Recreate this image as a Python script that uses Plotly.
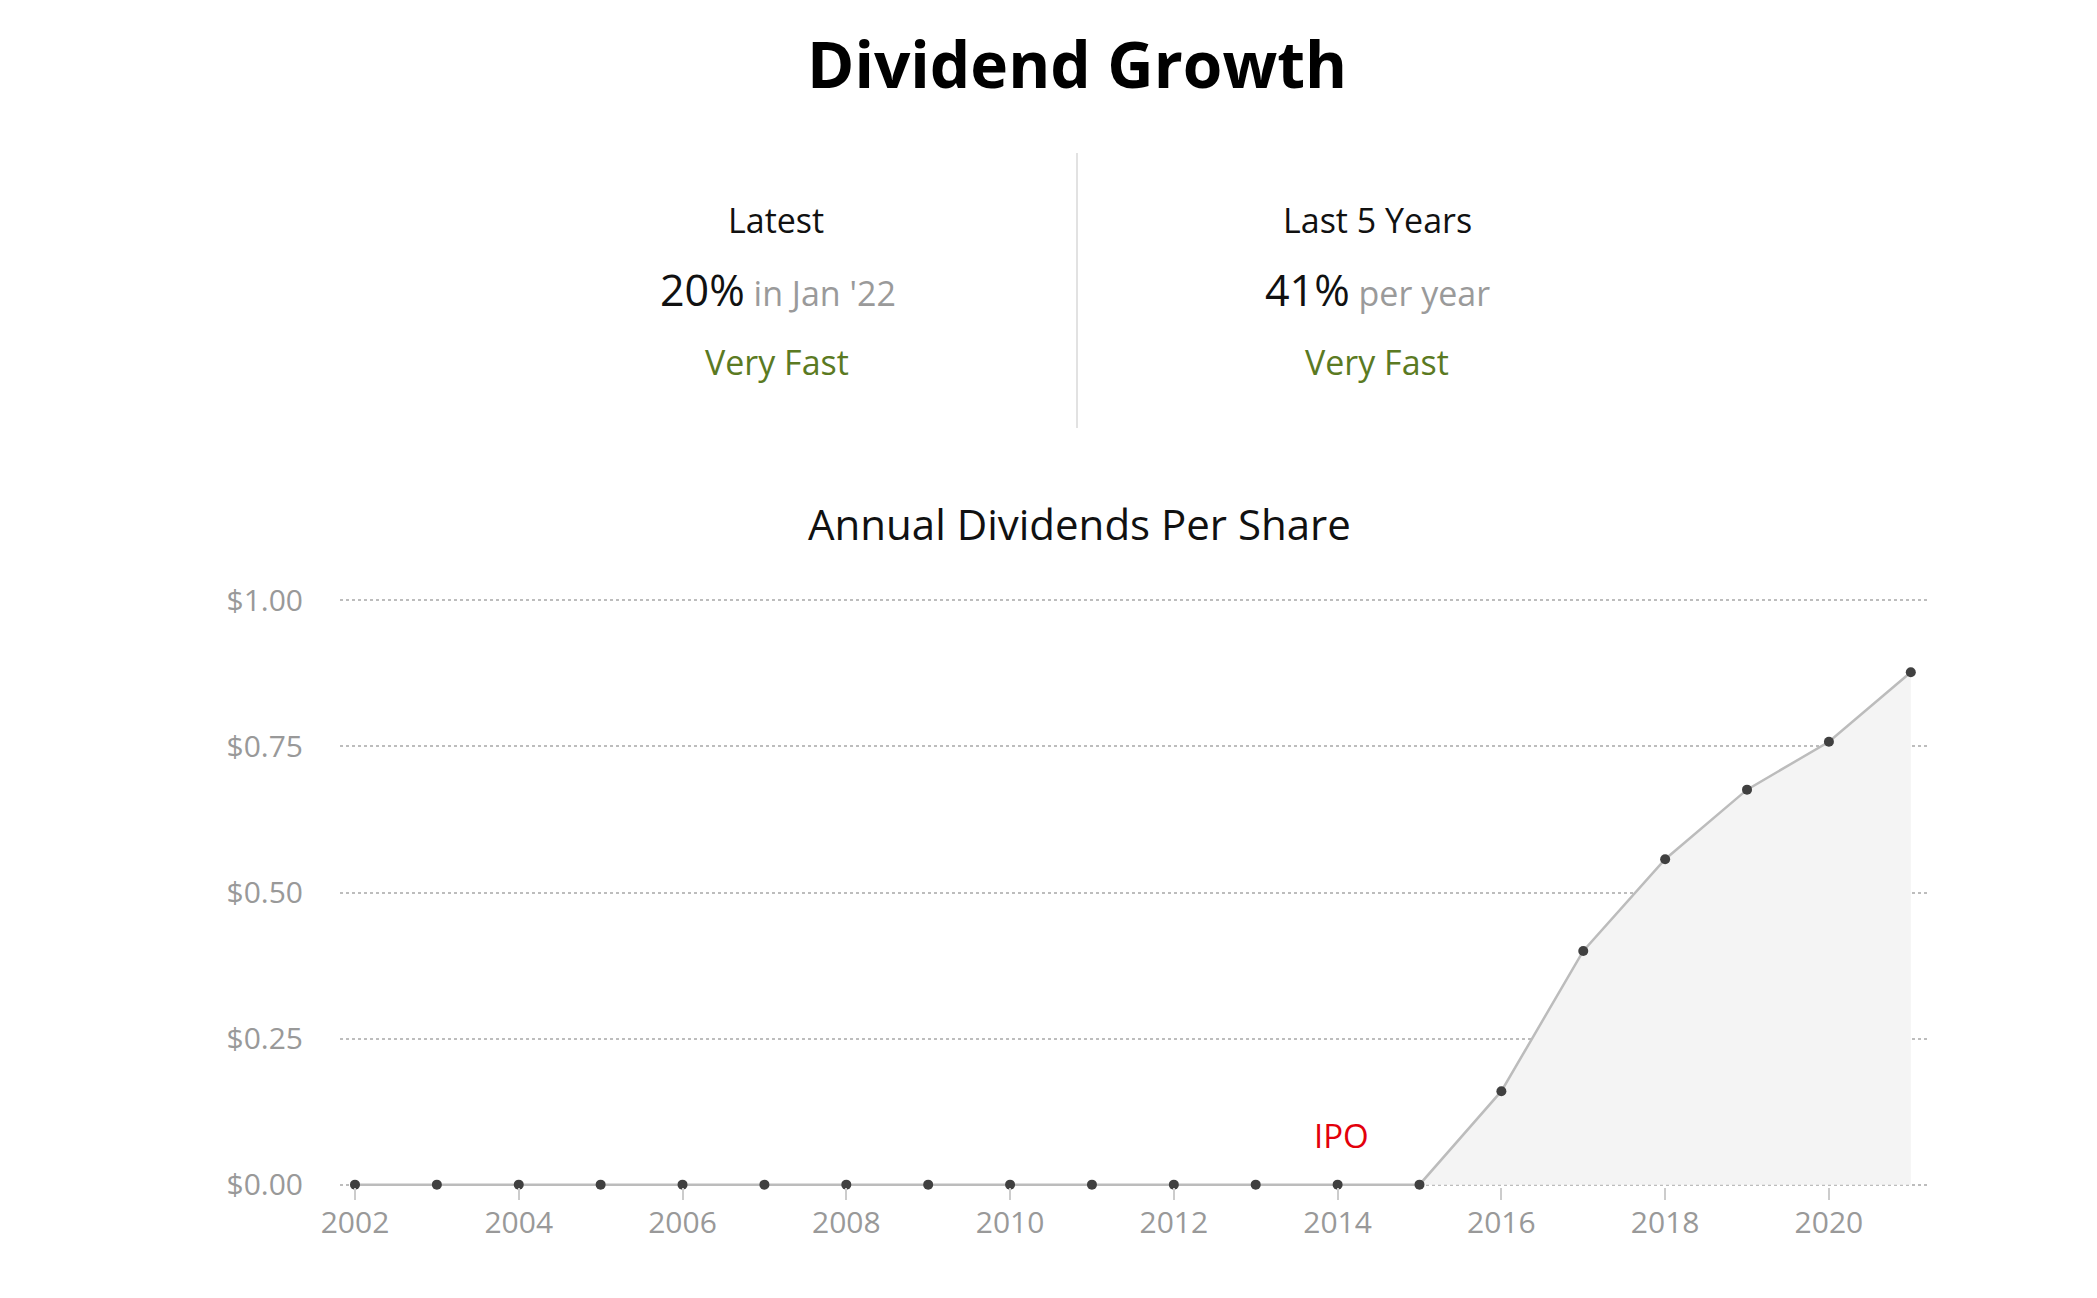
import plotly.graph_objects as go

# annual dividends per share
years = list(range(2002, 2022))
dividends = [0, 0, 0, 0, 0, 0, 0, 0, 0, 0, 0, 0, 0, 0,
             0.16, 0.40, 0.557, 0.676, 0.758, 0.877]

y_ticks = [0, 0.25, 0.5, 0.75, 1.0]
y_labels = ['$0.00', '$0.25', '$0.50', '$0.75', '$1.00']

latest_pct = '20%'
latest_note = "in Jan '22"
five_year_pct = '41%'
five_year_note = 'per year'
speed_label = 'Very Fast'
ipo_year = 2014

FONT = 'Open Sans'


# screenshot pixels -> paper coords (plot area is 340..1928 x 598..1187)
def px(x):
    return (x - 340) / 1588.0


def py(y):
    return (1187 - y) / 589.0


fig = go.Figure()

fig.add_trace(go.Scatter(
    x=years, y=dividends,
    mode='lines+markers',
    line=dict(color='#bcbcbc', width=2.5),
    marker=dict(color='#404040', size=10),
    fill='tozeroy', fillcolor='#f4f4f4',
    cliponaxis=False,
    hoverinfo='x+y',
))

annos = []


def txt(x, y, s, size, color='#111', **kw):
    annos.append(dict(x=px(x), y=py(y), xref='paper', yref='paper', text=s,
                      showarrow=False, xanchor='center', yanchor='middle',
                      font=dict(family=FONT, size=size, color=color), **kw))


txt(1077, 63, '<b>Dividend Growth</b>', 64, '#000')

# stats block
txt(776, 220, 'Latest', 34)
txt(778, 289, "<span style='font-size:43px;fill:#111'>%s</span> %s" % (latest_pct, latest_note), 34, '#9a9a9a')
txt(777, 362, speed_label, 34, '#5b7a22')

txt(1377, 220, 'Last 5 Years', 34)
txt(1377, 289, "<span style='font-size:43px;fill:#111'>%s</span> %s" % (five_year_pct, five_year_note), 34, '#9a9a9a')
txt(1377, 362, speed_label, 34, '#5b7a22')

txt(1079, 523, 'Annual Dividends Per Share', 42)

annos.append(dict(x=ipo_year + 0.05, y=0.084, xref='x', yref='y', text='IPO', showarrow=False,
                  xanchor='center', yanchor='middle',
                  font=dict(family=FONT, size=33, color='#e3000b')))

fig.update_layout(
    width=2081, height=1282,
    margin=dict(l=332, r=161, t=590, b=103),
    paper_bgcolor='white', plot_bgcolor='white',
    showlegend=False,
    annotations=annos,
    shapes=[dict(type='line', xref='paper', yref='paper',
                 x0=px(1077), x1=px(1077), y0=py(153), y1=py(428),
                 line=dict(color='#e2e2e2', width=2))],
    xaxis=dict(
        range=[2001.817, 2021.21],
        tick0=2002, dtick=2,
        showgrid=False, zeroline=False, showline=False,
        ticks='outside', ticklen=12, tickwidth=2, tickcolor='#cccccc',
        tickfont=dict(family=FONT, size=30, color='#999'),
        ticklabelstandoff=-3,
    ),
    yaxis=dict(
        range=[-0.004, 1.004],
        tickvals=y_ticks, ticktext=y_labels,
        showgrid=True, gridcolor='#bdbdbd', gridwidth=1.5, griddash='dot',
        zeroline=False, showline=False,
        tickfont=dict(family=FONT, size=30, color='#999'),
        ticklabelstandoff=36,
    ),
)

fig.write_html("out.html")
